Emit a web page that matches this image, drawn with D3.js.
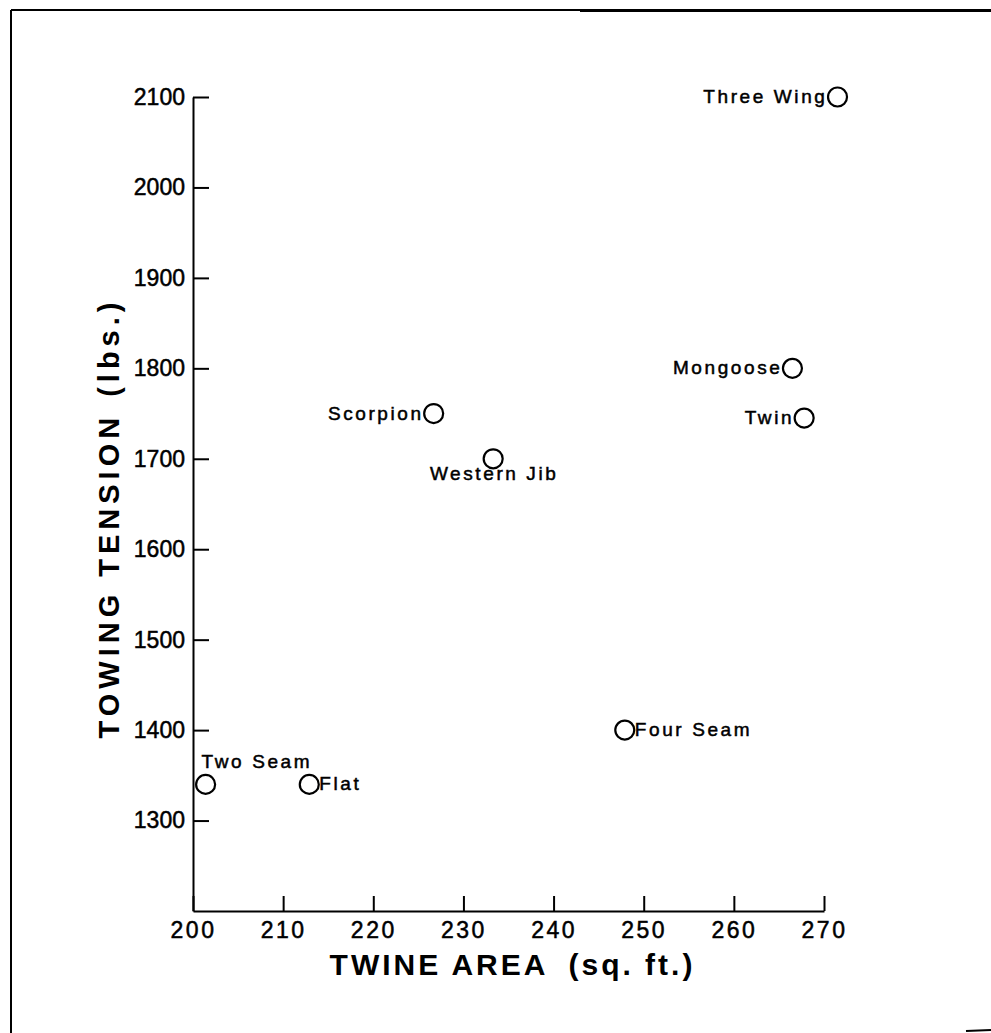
<!DOCTYPE html>
<html>
<head>
<meta charset="utf-8">
<script src="https://cdn.jsdelivr.net/npm/d3@7"></script>
<style>
  body { margin: 0; background: #fff; }
  svg { display: block; }
  .axis path, .axis line { stroke: #000; stroke-width: 2; }
  .axis text { font-family: "Liberation Sans", Arial, sans-serif; font-size: 23px; fill: #000; stroke: #000; stroke-width: 0.5; }
</style>
</head>
<body>
<div id="chart"></div>
<script>
// net designs: twine area (sq. ft.) vs towing tension (lbs.)
const netNames = ["Three Wing", "Mongoose", "Twin", "Scorpion", "Western Jib", "Four Seam", "Two Seam", "Flat"];
const twineArea = [271.5, 266.5, 267.8, 226.7, 233.3, 247.9, 201.4, 212.9];
const towingTension = [2100, 1800, 1745, 1750, 1700, 1400, 1340, 1340];
const xTicks = [200, 210, 220, 230, 240, 250, 260, 270];
const yTicks = [1300, 1400, 1500, 1600, 1700, 1800, 1900, 2000, 2100];

// where each label sits relative to its circle
const labelSide = ["left", "left", "left", "left", "below", "right", "above", "right"];

const W = 991, H = 1033;
const margin = { top: 97, right: 167, bottom: 122, left: 193 };

const svg = d3.select('#chart').append('svg')
  .attr('width', W)
  .attr('height', H);

// frame of the scanned page
svg.append('line').attr('x1', 11).attr('y1', 10).attr('x2', W).attr('y2', 10)
  .attr('stroke', '#000').attr('stroke-width', 2);
svg.append('line').attr('x1', 580).attr('y1', 10.5).attr('x2', W).attr('y2', 10.5)
  .attr('stroke', '#000').attr('stroke-width', 3);
svg.append('line').attr('x1', 11).attr('y1', 10).attr('x2', 11).attr('y2', H)
  .attr('stroke', '#000').attr('stroke-width', 2);
svg.append('line').attr('x1', 966).attr('y1', 1031).attr('x2', W).attr('y2', 1030)
  .attr('stroke', '#000').attr('stroke-width', 2);

const x = d3.scaleLinear()
  .domain([200, 270])
  .range([margin.left, W - margin.right]);
const y = d3.scaleLinear()
  .domain([1200, 2100])
  .range([H - margin.bottom, margin.top]);

svg.append('g')
  .attr('class', 'axis')
  .attr('transform', 'translate(' + margin.left + ',0)')
  .call(d3.axisLeft(y).tickValues(yTicks).tickSize(-16).tickSizeOuter(0).tickPadding(8).tickFormat(d3.format('d')));

svg.append('g')
  .attr('class', 'axis x-axis')
  .attr('transform', 'translate(0,' + (H - margin.bottom) + ')')
  .call(d3.axisBottom(x).tickValues(xTicks).tickSize(-15).tickSizeOuter(0).tickPadding(11).tickFormat(d3.format('d')));

svg.selectAll('.x-axis text').attr('letter-spacing', 2.5);
svg.selectAll('.axis .domain').attr('stroke-width', 2.5);

// axis titles
const xTitle = svg.append('text')
  .attr('x', (x.range()[0] + x.range()[1]) / 2 + 4)
  .attr('y', 975)
  .attr('text-anchor', 'middle')
  .attr('font-family', '"Liberation Sans", Arial, sans-serif')
  .attr('font-weight', 'bold')
  .attr('font-size', 30)
  .attr('letter-spacing', 3);
xTitle.append('tspan').text('TWINE AREA');
xTitle.append('tspan').attr('dx', 20).text('(sq. ft.)');

const yTitle = svg.append('text')
  .attr('transform', 'translate(119,' + 518 + ') rotate(-90)')
  .attr('text-anchor', 'middle')
  .attr('font-family', '"Liberation Sans", Arial, sans-serif')
  .attr('font-weight', 'bold')
  .attr('font-size', 29)
  .attr('letter-spacing', 5);
yTitle.append('tspan').text('TOWING TENSION');
yTitle.append('tspan').attr('dx', 16).text('(lbs.)');

// points
const pts = netNames.map((n, i) => ({ name: n, x: twineArea[i], y: towingTension[i], side: labelSide[i] }));

svg.append('g')
  .selectAll('circle')
  .data(pts)
  .enter().append('circle')
  .attr('cx', d => x(d.x))
  .attr('cy', d => y(d.y))
  .attr('r', 9.5)
  .attr('fill', 'none')
  .attr('stroke', '#000')
  .attr('stroke-width', 2.2);

svg.append('g')
  .attr('font-family', '"Liberation Sans", Arial, sans-serif')
  .attr('font-size', 19)
  .attr('letter-spacing', 2.6)
  .attr('stroke', '#000')
  .attr('stroke-width', 0.5)
  .selectAll('text')
  .data(pts)
  .enter().append('text')
  .attr('x', d => {
    if (d.side === 'left') return x(d.x) - 10;
    if (d.side === 'right') return x(d.x) + 10;
    if (d.side === 'above') return x(d.x) - 4;
    return x(d.x) + 1;
  })
  .attr('y', d => {
    if (d.side === 'below') return y(d.y) + 21;
    if (d.side === 'above') return y(d.y) - 16;
    return y(d.y) + 6;
  })
  .attr('text-anchor', d => d.side === 'left' ? 'end' : (d.side === 'below' ? 'middle' : 'start'))
  .text(d => d.name);
</script>
</body>
</html>
